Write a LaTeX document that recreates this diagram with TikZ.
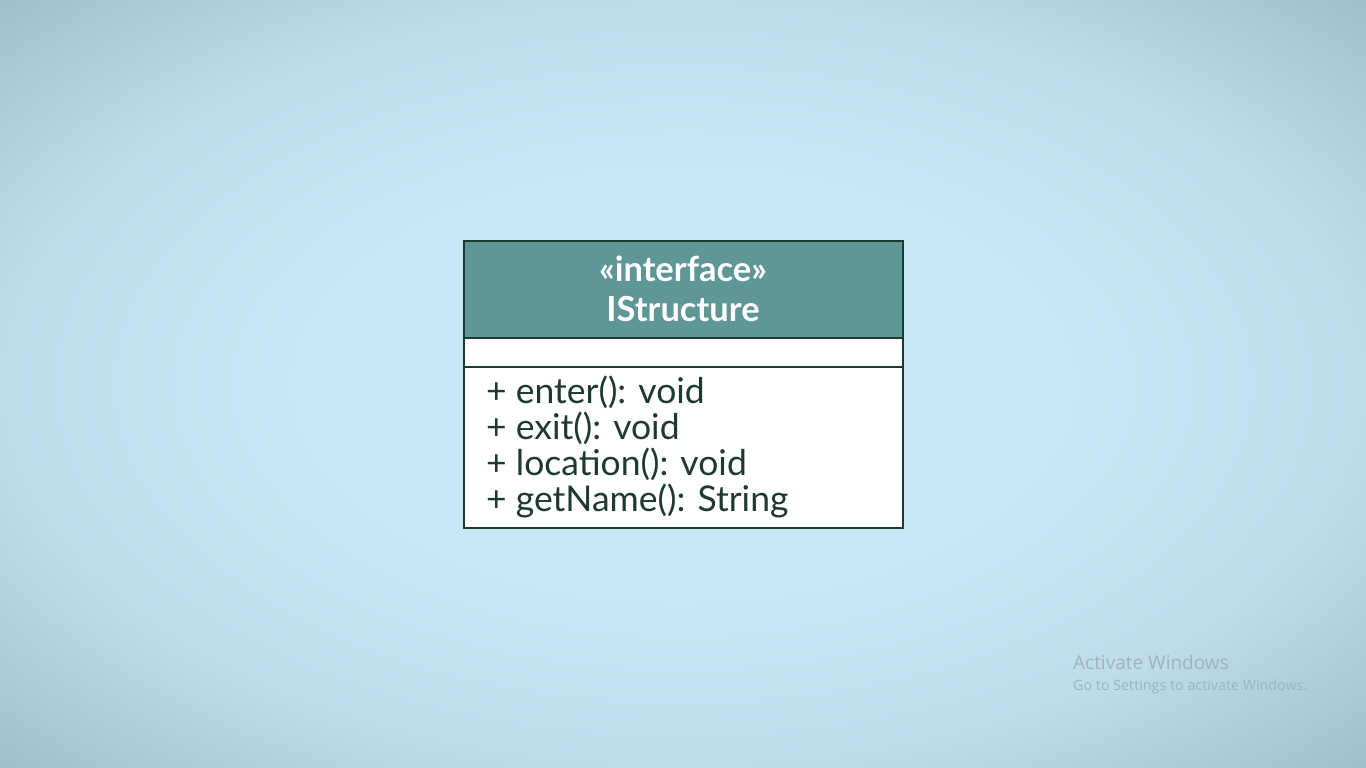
\documentclass[tikz,border=0pt]{standalone}
\usepackage{fontspec}
\setmainfont{Lato}
\newfontfamily\wmfont{Open Sans}
\definecolor{bgin}{HTML}{C6E7F3}
\definecolor{bgout}{HTML}{A0BFCA}
\definecolor{headfill}{HTML}{5F9696}
\definecolor{edge}{HTML}{1C3B30}
\definecolor{optext}{HTML}{1E3A2E}
\definecolor{wm}{HTML}{9FB3BA}
\pgfdeclareradialshading{bgshade}{\pgfpoint{0bp}{0bp}}{%
  color(0bp)=(bgin); color(14bp)=(bgin); color(25bp)=(bgin!75!bgout); color(35.5bp)=(bgout); color(50bp)=(bgout)}
\tikzset{
  comp/.style={draw=edge, line width=2pt, minimum width=439pt, inner sep=0pt, anchor=north west},
  headtext/.style={text=white, font=\fontsize{34.5}{40}\selectfont\bfseries, inner sep=0pt, anchor=base},
  optxt/.style={text=optext, font=\fontsize{35.5}{40}\selectfont, inner sep=0pt, anchor=base west},
  wmbig/.style={text=wm, font=\wmfont\fontsize{19}{22}\selectfont, inner sep=0pt, anchor=base west},
  wmsmall/.style={text=wm, font=\wmfont\fontsize{14.3}{17}\selectfont, inner sep=0pt, anchor=base west}
}
\begin{document}
\begin{tikzpicture}[x=1pt,y=-1pt]
\useasboundingbox (0,0) rectangle (1366,768);
\shade[shading=bgshade] (0,0) rectangle (1366,768);
\node[comp, fill=headfill, minimum height=97pt] (head) at (463,240) {};
\node[comp, fill=white, minimum height=29pt] (attr) at (463,337) {};
\node[comp, fill=white, minimum height=161pt] (ops) at (463,366) {};
\node[headtext] (stereo) at (683,281) {«interface»};
\node[headtext] (name) at (683,321) {IStructure};
\node[optxt] (op1) at (486,403) {+ enter(): void};
\node[optxt] (op2) at (486,439) {+ exit(): void};
\node[optxt] (op3) at (486,475) {+ location(): void};
\node[optxt] (op4) at (486,511) {+ getName(): String};
\node[wmbig] (wm1) at (1073,669) {Activate Windows};
\node[wmsmall] (wm2) at (1073,690) {Go to Settings to activate Windows.};
\end{tikzpicture}
\end{document}
